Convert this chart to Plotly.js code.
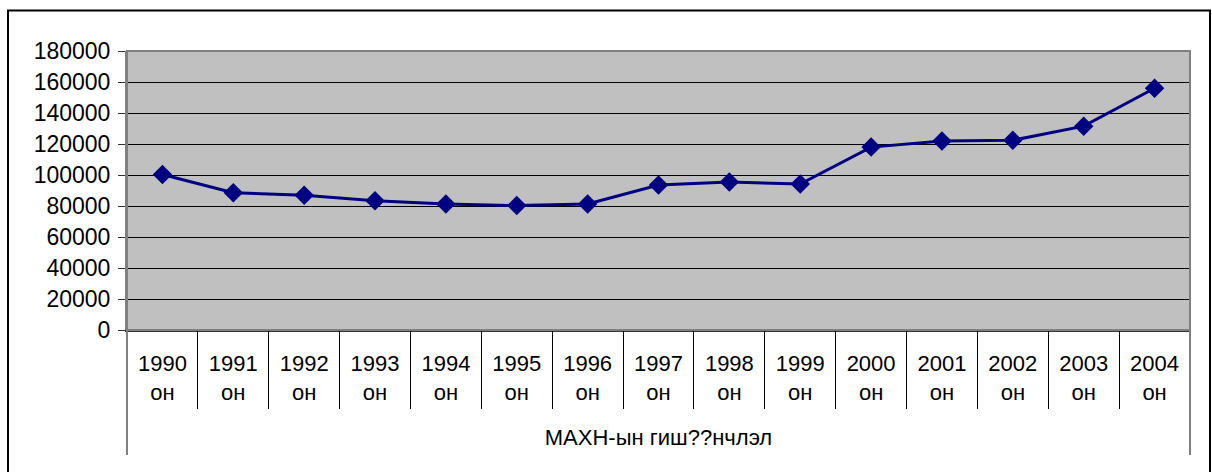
<!DOCTYPE html>
<html>
<head>
<meta charset="utf-8">
<script src="https://cdn.plot.ly/plotly-3.0.1.min.js"></script>
<style>
html,body{margin:0;padding:0;background:#fff;}
#chart{width:1212px;height:472px;}
</style>
</head>
<body>
<div id="chart"></div>
<script>
const years = ['1990','1991','1992','1993','1994','1995','1996','1997','1998','1999','2000','2001','2002','2003','2004'];
const yearSuffix = 'он';
const groupLabel = 'МАХН-ын гиш??нчлэл';
const members = [100300, 88600, 86900, 83400, 81300, 80300, 81300, 93500, 95500, 94200, 118000, 122000, 122400, 131500, 156000];
const yTicks = [0, 20000, 40000, 60000, 80000, 100000, 120000, 140000, 160000, 180000];

const xLabels = years.map(y => y + '<br>' + yearSuffix);
const FONT = 'Liberation Sans, Arial, sans-serif';

const trace = {
  type: 'scatter',
  mode: 'lines+markers',
  x: xLabels,
  y: members,
  line: {color: '#000080', width: 3},
  marker: {symbol: 'diamond', size: 15, color: '#000080'},
  hoverinfo: 'y'
};
const boundaryTrace = {
  type: 'scatter',
  mode: 'markers',
  x: xLabels,
  y: members,
  xaxis: 'x2',
  marker: {opacity: 0, size: 1},
  hoverinfo: 'skip'
};

const pxToPaperY = px => -(px - 330) / 279;

const layout = {
  width: 1212,
  height: 472,
  margin: {l: 127, r: 22, t: 51, b: 142},
  paper_bgcolor: '#ffffff',
  plot_bgcolor: '#c0c0c0',
  showlegend: false,
  font: {family: FONT, size: 22, color: '#000'},
  xaxis: {
    type: 'category',
    range: [-0.5, 14.5],
    showgrid: false,
    showline: true,
    linecolor: '#333',
    linewidth: 2,
    ticks: '',
    ticklabelstandoff: 13,
    tickangle: 0,
    tickfont: {family: FONT, size: 22, color: '#000'},
    zeroline: false,
    title: {text: groupLabel, font: {family: FONT, size: 22, color: '#000'}, standoff: 26}
  },
  xaxis2: {
    type: 'category',
    overlaying: 'x',
    anchor: 'y',
    side: 'bottom',
    range: [-0.5, 14.5],
    showgrid: false,
    showline: false,
    showticklabels: false,
    ticks: 'outside',
    tickson: 'boundaries',
    ticklen: 78,
    tickwidth: 1,
    tickcolor: '#000',
    zeroline: false
  },
  yaxis: {
    range: [0, 180000],
    tickvals: yTicks,
    ticktext: yTicks.map(String),
    showgrid: true,
    gridcolor: '#000',
    gridwidth: 1,
    zeroline: false,
    showline: true,
    linecolor: '#808080',
    linewidth: 2,
    ticks: 'outside',
    ticklen: 7,
    tickcolor: '#333',
    ticklabelstandoff: 3,
    tickfont: {family: FONT, size: 23, color: '#000'}
  },
  shapes: [
    {type: 'rect', xref: 'paper', yref: 'paper', x0: 0, x1: 1, y0: 0, y1: 1,
     line: {color: '#808080', width: 2}, layer: 'above'},
    {type: 'line', xref: 'paper', yref: 'paper', x0: 0, x1: 0, y0: 0, y1: pxToPaperY(455),
     line: {color: '#808080', width: 2}},
    {type: 'line', xref: 'paper', yref: 'paper', x0: 1, x1: 1, y0: 0, y1: pxToPaperY(455),
     line: {color: '#808080', width: 2}},
    {type: 'rect', xref: 'paper', yref: 'paper',
     x0: (8 - 127) / 1063, x1: (1210 - 127) / 1063,
     y0: pxToPaperY(477), y1: pxToPaperY(10.5),
     line: {color: '#000', width: 2}, layer: 'below'}
  ]
};

Plotly.newPlot('chart', [trace, boundaryTrace], layout, {displayModeBar: false, staticPlot: true});
</script>
</body>
</html>
